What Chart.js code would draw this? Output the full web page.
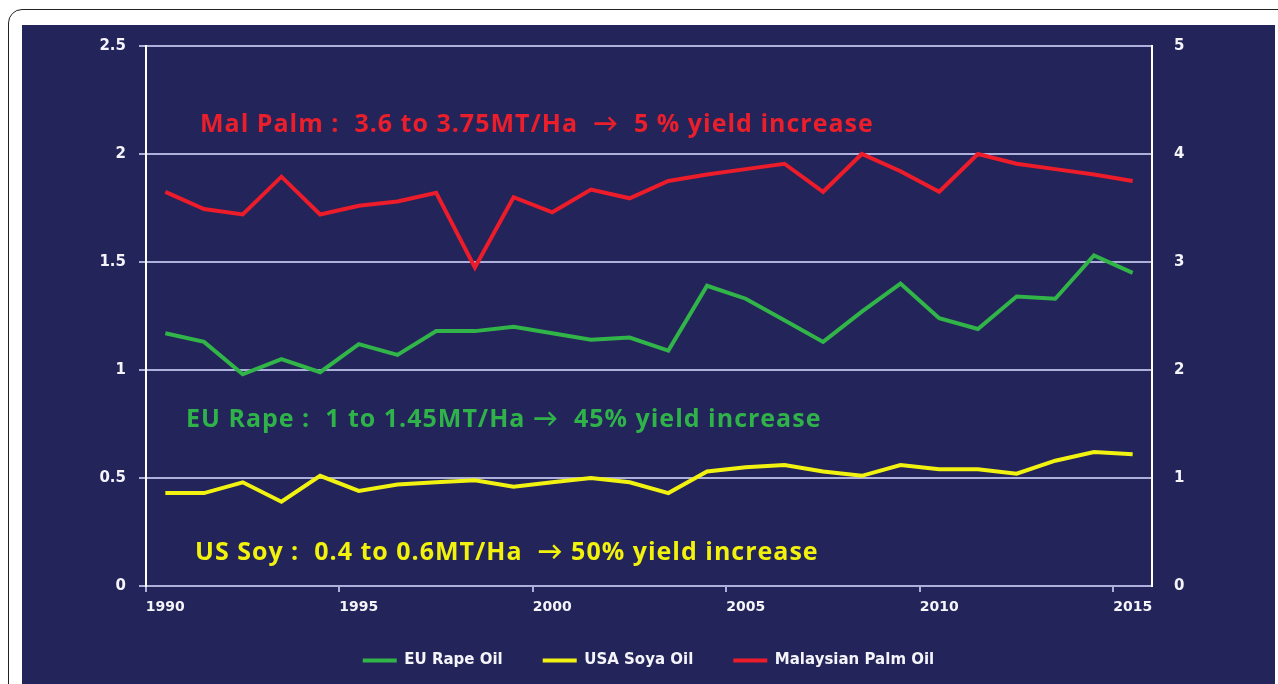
<!DOCTYPE html>
<html lang="en">
<head>
    <meta charset="UTF-8">
    <title>Oil crop yields 1990-2015</title>
    <script src="https://cdn.jsdelivr.net/npm/chart.js"></script>
    <style>
        body { margin: 0; background: #ffffff; overflow: hidden; width: 1278px; height: 684px; position: relative; }
        .frame { position: absolute; left: 8px; top: 9px; width: 1300px; height: 720px; border: 1.5px solid #222; border-radius: 14px; }
        .panel { position: absolute; left: 22px; top: 25px; width: 1253px; height: 700px; background: #232459; }
        #grafico { position: absolute; left: 0; top: -10px; width: 1253px; height: 669px; }
    </style>
</head>
<body>
    <div class="frame"></div>
    <div class="panel">
        <div id="grafico">
            <canvas id="grafico-info"></canvas>
        </div>
    </div>
    <script>
        const years = ['1990','1991','1992','1993','1994','1995','1996','1997','1998','1999','2000','2001','2002',
                       '2003','2004','2005','2006','2007','2008','2009','2010','2011','2012','2013','2014','2015'];
        const euRape = [1.17, 1.13, 0.98, 1.05, 0.99, 1.12, 1.07, 1.18, 1.18, 1.20, 1.17, 1.14, 1.15,
                        1.09, 1.39, 1.33, 1.23, 1.13, 1.27, 1.40, 1.24, 1.19, 1.34, 1.33, 1.53, 1.45];
        const usSoy = [0.43, 0.43, 0.48, 0.39, 0.51, 0.44, 0.47, 0.48, 0.49, 0.46, 0.48, 0.50, 0.48,
                       0.43, 0.53, 0.55, 0.56, 0.53, 0.51, 0.56, 0.54, 0.54, 0.52, 0.58, 0.62, 0.61];
        const malPalm = [3.65, 3.49, 3.44, 3.79, 3.44, 3.52, 3.56, 3.64, 2.95, 3.60, 3.46, 3.67, 3.59,
                         3.75, 3.81, 3.86, 3.91, 3.65, 4.00, 3.84, 3.65, 4.00, 3.91, 3.86, 3.81, 3.75];
        const notes = [
            { text: 'Mal Palm :  3.6 to 3.75MT/Ha  \u2192  5 % yield increase', value: 2.1, dx: 54, color: '#ea1f2b' },
            { text: 'EU Rape :  1 to 1.45MT/Ha \u2192  45% yield increase', value: 0.735, dx: 40, color: '#2fb24a' },
            { text: 'US Soy :  0.4 to 0.6MT/Ha  \u2192 50% yield increase', value: 0.12, dx: 49, color: '#f2f20c' }
        ];

        const textColor = '#f4f4fa';
        const gridColor = '#aeb0dc';
        const axisFont = '"DejaVu Sans", sans-serif';

        // writes the three yield notes inside the plot
        const notesPlugin = {
            id: 'notes',
            afterDatasetsDraw(chart) {
                const ctx = chart.ctx;
                const y = chart.scales.y;
                ctx.save();
                ctx.font = 'bold 25px "Open Sans", Lato, sans-serif';
                ctx.letterSpacing = '1px';
                ctx.textBaseline = 'alphabetic';
                ctx.textAlign = 'left';
                notes.forEach(n => {
                    ctx.fillStyle = n.color;
                    ctx.fillText(n.text, chart.chartArea.left + n.dx, y.getPixelForValue(n.value));
                });
                ctx.restore();
            }
        };

        function criarGrafico() {
            const ctx = document.getElementById('grafico-info').getContext('2d');
            const config = {
                type: 'line',
                data: {
                    labels: years,
                    datasets: [{
                        label: 'EU Rape Oil',
                        data: euRape,
                        borderColor: '#31b448',
                        backgroundColor: '#31b448',
                        borderWidth: 4,
                        pointRadius: 0,
                        yAxisID: 'y'
                    }, {
                        label: 'USA Soya Oil',
                        data: usSoy,
                        borderColor: '#f2f211',
                        backgroundColor: '#f2f211',
                        borderWidth: 4,
                        pointRadius: 0,
                        yAxisID: 'y'
                    }, {
                        label: 'Malaysian Palm Oil',
                        data: malPalm,
                        borderColor: '#ec1c2a',
                        backgroundColor: '#ec1c2a',
                        borderWidth: 4,
                        pointRadius: 0,
                        yAxisID: 'y1'
                    }]
                },
                options: {
                    responsive: true,
                    maintainAspectRatio: false,
                    animation: false,
                    layout: { padding: { top: 10, right: 0, bottom: 6, left: 0 } },
                    plugins: {
                        tooltip: { enabled: false },
                        legend: {
                            position: 'bottom',
                            labels: {
                                color: textColor,
                                font: { family: axisFont, weight: 'bold', size: 15 },
                                boxWidth: 34,
                                boxHeight: 4,
                                padding: 40,
                                generateLabels: chart => Chart.defaults.plugins.legend.labels.generateLabels(chart)
                                    .map(l => Object.assign(l, { lineWidth: 0 }))
                            }
                        }
                    },
                    scales: {
                        x: {
                            offset: true,
                            afterFit: s => { s.height = 27; },
                            border: { color: gridColor, width: 2 },
                            grid: {
                                offset: true,
                                drawOnChartArea: false,
                                tickLength: 6,
                                lineWidth: 2,
                                color: c => (c.index % 5 === 0 ? gridColor : 'rgba(0,0,0,0)')
                            },
                            ticks: {
                                autoSkip: false,
                                maxRotation: 0,
                                padding: 7,
                                color: textColor,
                                font: { family: axisFont, weight: 'bold', size: 14 },
                                callback: (v, i) => (i % 5 === 0 ? years[i] : '')
                            }
                        },
                        y: {
                            position: 'left',
                            min: 0,
                            max: 2.5,
                            afterFit: s => { s.width = 124; },
                            border: { color: '#ffffff', width: 2 },
                            grid: { color: gridColor, lineWidth: 2, tickLength: 7 },
                            ticks: {
                                stepSize: 0.5,
                                padding: 13,
                                color: textColor,
                                font: { family: axisFont, weight: 'bold', size: 15 },
                                callback: v => String(v)
                            }
                        },
                        y1: {
                            position: 'right',
                            min: 0,
                            max: 5,
                            afterFit: s => { s.width = 123; },
                            border: { color: '#ffffff', width: 2 },
                            grid: { drawOnChartArea: false, drawTicks: false },
                            ticks: {
                                stepSize: 1,
                                padding: 22,
                                color: textColor,
                                font: { family: axisFont, weight: 'bold', size: 15 },
                                callback: v => String(v)
                            }
                        }
                    }
                },
                plugins: [notesPlugin]
            };
            new Chart(ctx, config);
        }

        window.onload = function() {
            criarGrafico();
        };
    </script>
</body>
</html>
